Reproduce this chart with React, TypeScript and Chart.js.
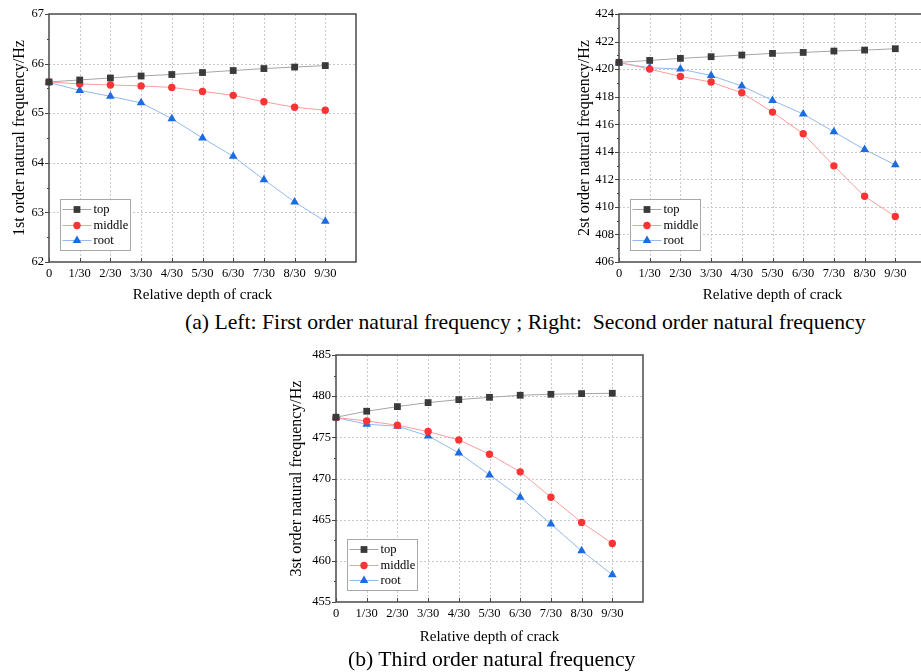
import React, { useEffect, useRef } from "react";
import { Chart, registerables } from "chart.js";
Chart.register(...registerables);

const depthLabels = ["0", "1/30", "2/30", "3/30", "4/30", "5/30", "6/30", "7/30", "8/30", "9/30"];
const seriesNames = ["top", "middle", "root"];

const f1Top = [65.63, 65.67, 65.71, 65.75, 65.78, 65.82, 65.86, 65.9, 65.93, 65.96];
const f1Middle = [65.63, 65.59, 65.57, 65.55, 65.52, 65.44, 65.36, 65.23, 65.12, 65.06];
const f1Root = [65.62, 65.46, 65.34, 65.21, 64.89, 64.5, 64.13, 63.66, 63.21, 62.82];

const f2Top = [420.49, 420.63, 420.78, 420.9, 421.02, 421.14, 421.21, 421.31, 421.38, 421.48];
const f2Middle = [420.49, 420.0, 419.47, 419.06, 418.28, 416.88, 415.31, 412.98, 410.77, 409.3];
const f2Root = [420.45, 420.1, 420.0, 419.54, 418.77, 417.73, 416.74, 415.45, 414.16, 413.05];

const f3Top = [477.44, 478.17, 478.73, 479.22, 479.58, 479.86, 480.11, 480.23, 480.31, 480.35];
const f3Middle = [477.4, 476.99, 476.47, 475.7, 474.69, 472.95, 470.81, 467.73, 464.66, 462.11];
const f3Root = [477.4, 476.59, 476.35, 475.17, 473.11, 470.44, 467.73, 464.46, 461.22, 458.31];

const captionA = "(a) Left: First order natural frequency ; Right:  Second order natural frequency";
const captionB = "(b) Third order natural frequency";
const xTitle = "Relative depth of crack";

const SERIF = '"Liberation Serif", "Times New Roman", serif';

const styles = [
  { line: "#a6a6a6", marker: "#3a3a3a", shape: "rect", radius: 4.8 },
  { line: "#fb9d9d", marker: "#f83434", shape: "circle", radius: 3.7 },
  { line: "#93b9ee", marker: "#1b6ce0", shape: "triangle", radius: 5 },
];

type Spec = {
  left: number; top: number; width: number; height: number;
  padding: { left: number; top: number; right: number; bottom: number };
  yWidth: number; xHeight: number; yTitlePad: number; xTitlePad: number;
  yMin: number; yMax: number; yStep: number; yTitle: string;
  series: number[][];
};

const specs: Spec[] = [
  {
    left: 0, top: 0, width: 370, height: 305,
    padding: { left: 0, top: 14, right: 14, bottom: 0 },
    yWidth: 49, xHeight: 43, yTitlePad: 10, xTitlePad: 1,
    yMin: 62, yMax: 67, yStep: 1, yTitle: "1st order natural frequency/Hz",
    series: [f1Top, f1Middle, f1Root],
  },
  {
    left: 560, top: 0, width: 371, height: 305,
    padding: { left: 0, top: 14, right: 5, bottom: 0 },
    yWidth: 59, xHeight: 43, yTitlePad: 15, xTitlePad: 1,
    yMin: 406, yMax: 424, yStep: 2, yTitle: "2st order natural frequency/Hz",
    series: [f2Top, f2Middle, f2Root],
  },
  {
    left: 280, top: 340, width: 375, height: 332,
    padding: { left: 0, top: 15, right: 12, bottom: 25 },
    yWidth: 56, xHeight: 45, yTitlePad: 7, xTitlePad: 1,
    yMin: 455, yMax: 485, yStep: 5, yTitle: "3st order natural frequency/Hz",
    series: [f3Top, f3Middle, f3Root],
  },
];

function drawGlyph(ctx: CanvasRenderingContext2D, shape: string, x: number, y: number, r: number, color: string) {
  ctx.fillStyle = color;
  ctx.beginPath();
  if (shape === "rect") {
    const s = r * Math.SQRT1_2;
    ctx.rect(x - s, y - s, 2 * s, 2 * s);
  } else if (shape === "circle") {
    ctx.arc(x, y, r, 0, Math.PI * 2);
  } else {
    ctx.moveTo(x, y - r);
    ctx.lineTo(x + r * Math.sin((2 * Math.PI) / 3), y - r * Math.cos((2 * Math.PI) / 3));
    ctx.lineTo(x - r * Math.sin((2 * Math.PI) / 3), y - r * Math.cos((2 * Math.PI) / 3));
    ctx.closePath();
  }
  ctx.fill();
}

function FreqChart({ spec }: { spec: Spec }) {
  const ref = useRef<HTMLCanvasElement | null>(null);
  useEffect(() => {
    if (!ref.current) return;
    const { yMin, yMax, yStep } = spec;
    const plugin = {
      id: "originFrame",
      beforeDatasetsDraw(chart: any) {
        const { ctx, chartArea: a, scales } = chart;
        const x = scales.x, y = scales.y;
        ctx.save();
        ctx.strokeStyle = "#c8c8c8";
        ctx.lineWidth = 1;
        ctx.setLineDash([2, 2]);
        ctx.beginPath();
        for (let i = 1; i < depthLabels.length; i++) {
          const px = Math.round(x.getPixelForValue(i)) + 0.5;
          ctx.moveTo(px, a.top);
          ctx.lineTo(px, a.bottom);
        }
        for (let v = yMin + yStep; v < yMax - 1e-9; v += yStep) {
          const py = Math.round(y.getPixelForValue(v)) + 0.5;
          ctx.moveTo(a.left, py);
          ctx.lineTo(a.right, py);
        }
        ctx.stroke();
        ctx.setLineDash([]);
        // ticks
        ctx.strokeStyle = "#444";
        ctx.lineWidth = 1;
        ctx.beginPath();
        for (let i = 0; i < depthLabels.length; i++) {
          const px = Math.round(x.getPixelForValue(i)) + 0.5;
          ctx.moveTo(px, a.bottom);
          ctx.lineTo(px, a.bottom - 4);
        }
        for (let v = yMin; v <= yMax + 1e-9; v += yStep / 2) {
          const py = Math.round(y.getPixelForValue(v)) + 0.5;
          const major = Math.abs((v - yMin) / yStep - Math.round((v - yMin) / yStep)) < 1e-6;
          ctx.moveTo(a.left, py);
          ctx.lineTo(a.left - (major ? 4 : 2), py);
        }
        ctx.stroke();
        // frame
        ctx.strokeStyle = "#4a4a4a";
        ctx.lineWidth = 1.5;
        ctx.strokeRect(a.left, a.top, a.right - a.left, a.bottom - a.top);
        ctx.restore();
      },
      afterDraw(chart: any) {
        const { ctx, chartArea: a } = chart;
        const bx = Math.round(a.left) + 11.5;
        const by = Math.round(a.bottom) - 62.5;
        const bw = 70, bh = 51;
        ctx.save();
        ctx.fillStyle = "#fff";
        ctx.fillRect(bx, by, bw, bh);
        ctx.strokeStyle = "#a8a8a8";
        ctx.lineWidth = 1;
        ctx.strokeRect(bx, by, bw, bh);
        const rows = [10, 26, 41];
        ctx.font = `12.5px ${SERIF}`;
        ctx.textBaseline = "middle";
        ctx.textAlign = "left";
        seriesNames.forEach((name, i) => {
          const st = styles[i];
          const ry = by + rows[i];
          ctx.strokeStyle = st.line;
          ctx.lineWidth = 1;
          ctx.beginPath();
          ctx.moveTo(bx + 2, ry);
          ctx.lineTo(bx + 31, ry);
          ctx.stroke();
          drawGlyph(ctx, st.shape, bx + 16.5, ry, st.radius, st.marker);
          ctx.fillStyle = "#000";
          ctx.fillText(name, bx + 33, ry + 0.5);
        });
        ctx.restore();
      },
    };

    const chart = new Chart(ref.current, {
      type: "line",
      data: {
        labels: [...depthLabels, ""],
        datasets: spec.series.map((vals, i) => ({
          label: seriesNames[i],
          data: vals,
          borderColor: styles[i].line,
          backgroundColor: styles[i].marker,
          borderWidth: 1,
          pointStyle: styles[i].shape as any,
          pointRadius: styles[i].radius,
          pointBorderWidth: 0,
          pointBackgroundColor: styles[i].marker,
          pointBorderColor: styles[i].marker,
          tension: 0,
          fill: false,
          clip: false as any,
        })),
      },
      options: {
        responsive: false,
        animation: false,
        devicePixelRatio: 1,
        layout: { padding: spec.padding },
        plugins: { legend: { display: false }, tooltip: { enabled: false } },
        events: [],
        scales: {
          x: {
            type: "category",
            offset: false,
            grid: { display: false, drawTicks: false },
            border: { display: false },
            ticks: {
              autoSkip: false,
              maxRotation: 0,
              minRotation: 0,
              padding: 4,
              color: "#000",
              font: { family: SERIF, size: 12.5 },
            },
            title: {
              display: true,
              text: xTitle,
              color: "#000",
              font: { family: SERIF, size: 15 },
              padding: { top: 0, bottom: spec.xTitlePad },
            },
            afterFit: (s: any) => { s.height = spec.xHeight; },
          },
          y: {
            type: "linear",
            min: spec.yMin,
            max: spec.yMax,
            grid: { display: false, drawTicks: false },
            border: { display: false },
            ticks: {
              stepSize: spec.yStep,
              padding: 5,
              color: "#000",
              font: { family: SERIF, size: 12.5 },
            },
            title: {
              display: true,
              text: spec.yTitle,
              color: "#000",
              font: { family: SERIF, size: 16 },
              padding: { top: spec.yTitlePad, bottom: 0 },
            },
            afterFit: (s: any) => { s.width = spec.yWidth; },
          },
        },
      },
      plugins: [plugin],
    });
    return () => chart.destroy();
  }, [spec]);

  return (
    <canvas
      ref={ref}
      width={spec.width}
      height={spec.height}
      style={{ position: "absolute", left: spec.left, top: spec.top, width: spec.width, height: spec.height }}
    />
  );
}

export default function App() {
  const cap: React.CSSProperties = {
    position: "absolute",
    fontFamily: SERIF,
    fontSize: 21.7,
    lineHeight: "22px",
    whiteSpace: "pre",
    color: "#000",
  };
  return (
    <div
      style={{
        position: "fixed",
        left: 0,
        top: 0,
        width: 921,
        height: 672,
        overflow: "hidden",
        background: "#fff",
      }}
    >
      {specs.map((s, i) => (
        <FreqChart key={i} spec={s} />
      ))}
      <div style={{ ...cap, left: 185, top: 311 }}>{captionA}</div>
      <div style={{ ...cap, left: 348, top: 648 }}>{captionB}</div>
    </div>
  );
}
